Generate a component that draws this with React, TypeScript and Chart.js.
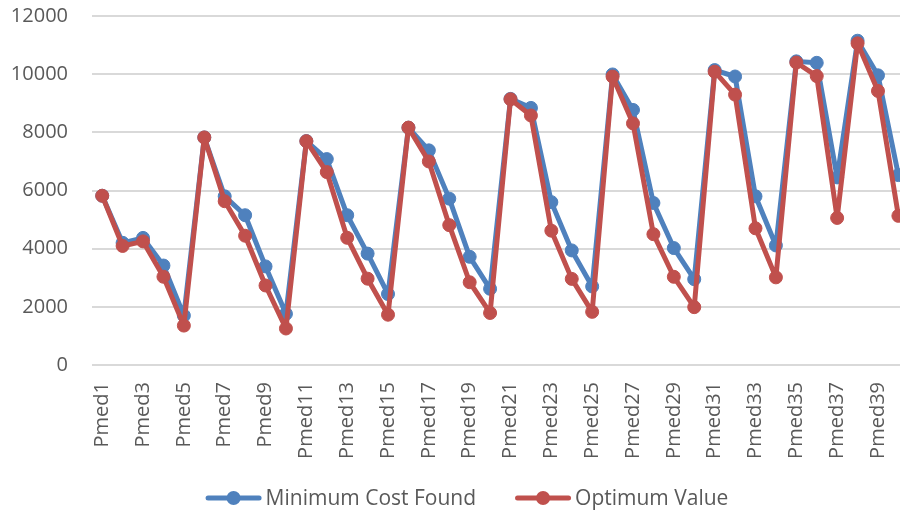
import React, { useEffect, useRef } from "react";
import { Chart, registerables } from "chart.js";

Chart.register(...registerables);

const categories = [
  "Pmed1", "Pmed2", "Pmed3", "Pmed4", "Pmed5", "Pmed6", "Pmed7", "Pmed8", "Pmed9", "Pmed10",
  "Pmed11", "Pmed12", "Pmed13", "Pmed14", "Pmed15", "Pmed16", "Pmed17", "Pmed18", "Pmed19", "Pmed20",
  "Pmed21", "Pmed22", "Pmed23", "Pmed24", "Pmed25", "Pmed26", "Pmed27", "Pmed28", "Pmed29", "Pmed30",
  "Pmed31", "Pmed32", "Pmed33", "Pmed34", "Pmed35", "Pmed36", "Pmed37", "Pmed38", "Pmed39", "Pmed40",
];

const minimumCostFound = [
  5819, 4200, 4370, 3420, 1700, 7824, 5800, 5150, 3390, 1760,
  7700, 7080, 5150, 3830, 2440, 8160, 7380, 5720, 3720, 2620,
  9150, 8840, 5600, 3940, 2700, 9990, 8770, 5570, 4020, 2950,
  10140, 9920, 5800, 4110, 10440, 10390, 6450, 11150, 9960, 6530,
];

const optimumValue = [
  5819, 4093, 4250, 3034, 1355, 7824, 5631, 4445, 2734, 1255,
  7696, 6634, 4374, 2968, 1729, 8162, 6999, 4809, 2845, 1789,
  9138, 8579, 4619, 2961, 1828, 9917, 8307, 4498, 3033, 1989,
  10086, 9297, 4700, 3013, 10400, 9934, 5057, 11060, 9423, 5128,
];

const seriesNames = ["Minimum Cost Found", "Optimum Value"];
const yMin = 0;
const yMax = 12000;
const yStep = 2000;

const BLUE = "#4f81bd";
const RED = "#c0504d";
const TEXT = "#595959";
const GRID = "#d9d9d9";
const FONT = "'Open Sans', sans-serif";

const customLegend = {
  id: "customLegend",
  afterDraw(chart: any) {
    const ctx = chart.ctx;
    const ds = chart.data.datasets;
    const fontSize = 21;
    const iconW = 56;
    const iconGap = 4;
    const itemGap = 39;
    const cy = 498;
    const centerX = 467;
    ctx.save();
    ctx.font = `${fontSize}px ${FONT}`;
    const widths = ds.map((d: any) => ctx.measureText(d.label).width);
    const total =
      widths.reduce((a: number, w: number) => a + w + iconW + iconGap, 0) + itemGap * (ds.length - 1);
    let x = centerX - total / 2;
    ds.forEach((d: any, i: number) => {
      const color = d.borderColor;
      ctx.strokeStyle = color;
      ctx.fillStyle = color;
      ctx.lineWidth = 5;
      ctx.lineCap = "round";
      ctx.beginPath();
      ctx.moveTo(x + 2.5, cy);
      ctx.lineTo(x + iconW - 2.5, cy);
      ctx.stroke();
      ctx.beginPath();
      ctx.arc(x + iconW / 2, cy, 7, 0, Math.PI * 2);
      ctx.fill();
      ctx.fillStyle = TEXT;
      ctx.textAlign = "left";
      ctx.textBaseline = "middle";
      ctx.fillText(d.label, x + iconW + iconGap, cy + 1);
      x += iconW + iconGap + widths[i] + itemGap;
    });
    ctx.restore();
  },
};

export default function App() {
  const ref = useRef<HTMLCanvasElement | null>(null);

  useEffect(() => {
    document.body.style.margin = "0";
    document.body.style.overflow = "hidden";
    if (!ref.current) return;
    const chart = new Chart(ref.current, {
      type: "line",
      data: {
        labels: categories,
        datasets: [
          {
            label: seriesNames[0],
            data: minimumCostFound,
            borderColor: BLUE,
            backgroundColor: BLUE,
            borderWidth: 5,
            borderJoinStyle: "round",
            pointRadius: 6.5,
            pointBorderWidth: 1,
            pointBackgroundColor: BLUE,
            pointBorderColor: BLUE,
            tension: 0,
            order: 1,
          },
          {
            label: seriesNames[1],
            data: optimumValue,
            borderColor: RED,
            backgroundColor: RED,
            borderWidth: 5,
            borderJoinStyle: "round",
            pointRadius: 6.5,
            pointBorderWidth: 1,
            pointBackgroundColor: RED,
            pointBorderColor: RED,
            tension: 0,
            order: 0,
          },
        ],
      },
      options: {
        responsive: false,
        animation: false,
        layout: { padding: { left: 0, right: 13.4, top: 16, bottom: 46 } },
        scales: {
          x: {
            offset: true,
            grid: { display: false, drawTicks: false },
            border: { display: false },
            afterFit: (s: any) => {
              s.height = 101;
              s.paddingLeft = 0;
              s.paddingRight = 0;
            },
            ticks: {
              autoSkip: false,
              maxRotation: 90,
              minRotation: 90,
              padding: 17,
              color: TEXT,
              font: { family: FONT, size: 20 },
              callback: (_v: any, i: number) => (i % 2 === 0 ? categories[i] : ""),
            },
          },
          y: {
            min: yMin,
            max: yMax,
            afterFit: (s: any) => {
              s.width = 92;
              s.paddingTop = 0;
              s.paddingBottom = 0;
            },
            ticks: {
              stepSize: yStep,
              padding: 24,
              color: TEXT,
              font: { family: FONT, size: 20 },
              callback: (v: any) => String(v),
            },
            grid: { color: GRID, lineWidth: 2, drawTicks: false },
            border: { display: false },
          },
        },
        plugins: {
          tooltip: { enabled: false },
          legend: { display: false },
        },
      } as any,
      plugins: [customLegend],
    });
    return () => chart.destroy();
  }, []);

  return (
    <div style={{ position: "fixed", left: 0, top: 0, width: 922, height: 512 }}>
      <canvas ref={ref} width={922} height={512} style={{ width: 922, height: 512 }} />
    </div>
  );
}
